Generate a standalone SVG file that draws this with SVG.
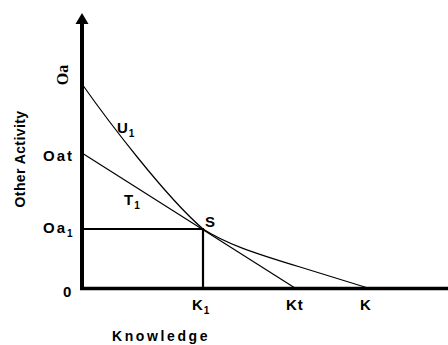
<svg xmlns="http://www.w3.org/2000/svg" width="448" height="345" viewBox="0 0 448 345">
<style>
.lbl{font-family:"Liberation Sans",Arial,sans-serif;font-weight:bold;font-size:15px;fill:#000}
.sub{font-size:10px}
.axis{stroke:#000;fill:none}
.thin{stroke:#000;stroke-width:1.2;fill:none}
.mid{stroke:#000;stroke-width:2.2;fill:none}
</style>
<rect width="448" height="345" fill="#fff"/>
<g id="axes">
<line class="axis" x1="82" y1="22" x2="82" y2="290" stroke-width="4"/>
<polygon points="82,13 75.5,24 88.5,24" fill="#000"/>
<line class="axis" x1="80" y1="288.5" x2="448" y2="288.5" stroke-width="3.5"/>
</g>
<g id="connectors">
<path id="U1-curve" class="thin" d="M82,84 C108,121 165,196 203,229 C225,243 250,252 300,267 L368,288"/>
<line id="T1-line" class="thin" x1="82" y1="153" x2="295" y2="288"/>
<line id="Oa1-line" class="mid" x1="82" y1="229" x2="204" y2="229"/>
<line id="K1-line" class="mid" x1="203" y1="228" x2="203" y2="288"/>
</g>
<g id="labels">
<text class="lbl" transform="translate(25,159) rotate(-90)" text-anchor="middle" style="font-size:14px;letter-spacing:0.4px">Other Activity</text>
<text transform="translate(67.5,75) rotate(-90)" text-anchor="middle" style="font-family:'Liberation Serif','Times New Roman',serif;font-weight:bold;font-size:16px">Oa</text>
<text class="lbl" x="43" y="161" style="letter-spacing:2px">Oat</text>
<text class="lbl" x="43" y="233" style="letter-spacing:2px">Oa<tspan class="sub" dx="0" dy="4">1</tspan></text>
<text class="lbl" x="63" y="297">0</text>
<text class="lbl" x="117" y="133">U<tspan class="sub" dx="1" dy="4">1</tspan></text>
<text class="lbl" x="124" y="205">T<tspan class="sub" dx="1" dy="4">1</tspan></text>
<text class="lbl" x="205" y="227">S</text>
<text class="lbl" x="192" y="310">K<tspan class="sub" dx="1" dy="4">1</tspan></text>
<text class="lbl" x="286" y="310" style="letter-spacing:1px">Kt</text>
<text class="lbl" x="360" y="310">K</text>
<text class="lbl" x="112" y="341" style="font-size:14px;letter-spacing:2.6px">Knowledge</text>
</g>
</svg>
